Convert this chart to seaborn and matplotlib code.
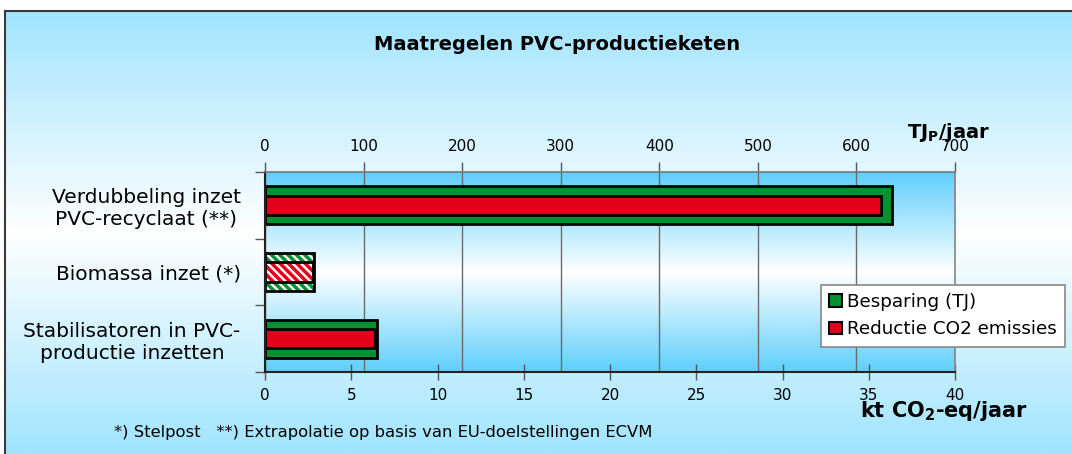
import numpy as np
import pandas as pd
import seaborn as sns
import matplotlib.pyplot as plt
import matplotlib.colors as mcolors
from matplotlib.patches import Patch

categories = ["Verdubbeling inzet\nPVC-recyclaat (**)", "Biomassa inzet (*)",
              "Stabilisatoren in PVC-\nproductie inzetten"]
besparing_tj = [636.5, 50, 114]
reductie_kt = [35.7, 2.8, 6.35]
hatched = [False, True, False]
tj_ticks = [0, 100, 200, 300, 400, 500, 600, 700]
kt_ticks = [0, 5, 10, 15, 20, 25, 30, 35, 40]

green = "#009230"
red = "#e2001a"

sns.set_style("white")
plt.rcParams["font.family"] = ["DejaVu Sans"]
plt.rcParams["text.color"] = "black"
plt.rcParams["xtick.labelcolor"] = "black"
plt.rcParams["ytick.labelcolor"] = "black"
plt.rcParams["hatch.linewidth"] = 2.5

W, H = 1072, 454
fig = plt.figure(figsize=(W / 100, H / 100), dpi=100)


def grad(c_end, n=256):
    c = np.array(mcolors.to_rgb(c_end))
    t = np.abs(np.linspace(-1, 1, n))[:, None]
    return (1 - t) * np.ones(3) + t * c


# figure background with frame
bg = fig.add_axes([5 / W, 0, 1 - 5 / W, 1 - 11 / H], zorder=-2)
bg.imshow(grad("#a0e4fe")[:, None, :], aspect="auto", extent=[0, 1, 0, 1])
bg.set_xticks([]); bg.set_yticks([])
for s in ["right", "bottom"]:
    bg.spines[s].set_visible(False)
for s in ["left", "top"]:
    bg.spines[s].set_color("#3a3a3a"); bg.spines[s].set_linewidth(1.5)

rect = [265 / W, 1 - 372 / H, 690 / W, 200 / H]
pbg = fig.add_axes(rect, zorder=-1)
pbg.imshow(grad("#5ecffc")[:, None, :], aspect="auto", extent=[0, 1, 0, 1])
pbg.axis("off")

ax = fig.add_axes(rect)
ax.set_facecolor("none")
df = pd.DataFrame({"cat": categories, "tj": besparing_tj, "kt": reductie_kt})
sns.barplot(data=df, x="tj", y="cat", orient="h", color=green, width=0.57,
            edgecolor="black", linewidth=2, saturation=1, ax=ax)
ax2 = ax.twiny()
sns.barplot(data=df, x="kt", y="cat", orient="h", color=red, width=0.29,
            edgecolor="black", linewidth=2, saturation=1, ax=ax2)

for a, col in [(ax, green), (ax2, red)]:
    for p, h in zip(a.patches, hatched):
        if h:
            p.set_facecolor("white")
            p.set_hatch("\\\\\\\\")
            p._hatch_color = mcolors.to_rgba(col)

ax.set_xlim(0, 700)
ax2.set_xlim(0, 40)
ax.set_ylim(2.5, -0.5)
ax.xaxis.tick_top()
ax2.xaxis.tick_bottom()
ax.set_xticks(tj_ticks)
ax2.set_xticks(kt_ticks)
ax.set_xlabel(""); ax.set_ylabel(""); ax2.set_xlabel("")
ax.tick_params(axis="x", top=True, bottom=False, direction="out", length=7,
               width=1, color="#555555", labelsize=11, pad=6)
ax2.tick_params(axis="x", top=False, bottom=True, direction="inout", length=11,
                width=1, color="#555555", labelsize=11, pad=6)
ax.set_yticks([0, 1, 2])
ax.set_yticklabels(categories, fontsize=14.5)
ax.set_yticks([-0.5, 0.5, 1.5, 2.5], minor=True)
ax.tick_params(axis="y", which="major", left=False, pad=14)
ax.tick_params(axis="y", which="minor", left=True, length=7, width=1,
               color="#555555", direction="out")
for t in ax.get_yticklabels():
    t.set_multialignment("center")
ax.grid(axis="x", color="#6a6a6a", linewidth=1)
ax.set_axisbelow(True)
for a in (ax, ax2):
    for s in a.spines.values():
        s.set_visible(False)
ax2.spines["bottom"].set_visible(True)
ax2.spines["bottom"].set_color("#222222"); ax2.spines["bottom"].set_linewidth(1.5)
ax2.spines["left"].set_visible(True)
ax2.spines["left"].set_color("#222222"); ax2.spines["left"].set_linewidth(1.5)
ax2.spines["top"].set_visible(True)
ax2.spines["top"].set_color("#777777"); ax2.spines["top"].set_linewidth(1.2)
ax2.spines["right"].set_visible(True)
ax2.spines["right"].set_color("#888888"); ax2.spines["right"].set_linewidth(1.2)

fig.text(557 / W, 1 - 45 / H, "Maatregelen PVC-productieketen", ha="center",
         va="center", fontsize=14, fontweight="bold")
fig.text(948 / W, 1 - 133 / H, "TJ$_\\mathregular{P}$/jaar", ha="center",
         va="center", fontsize=14, fontweight="bold")
fig.text(944 / W, 1 - 411 / H, "kt CO$_\\mathregular{2}$-eq/jaar", ha="center",
         va="center", fontsize=15, fontweight="bold")
fig.text(114 / W, 1 - 432 / H,
         "*) Stelpost   **) Extrapolatie op basis van EU-doelstellingen ECVM",
         ha="left", va="center", fontsize=11.8)

handles = [Patch(facecolor=green, edgecolor="black", linewidth=1.5, label="Besparing (TJ)"),
           Patch(facecolor=red, edgecolor="black", linewidth=1.5, label="Reductie CO2 emissies")]
leg = fig.legend(handles=handles, loc="upper left",
                 bbox_to_anchor=(821 / W, 1 - 285 / H), fontsize=13.2,
                 frameon=True, fancybox=False, framealpha=1, edgecolor="#888888",
                 handlelength=0.7, handleheight=0.7, handletextpad=0.25,
                 borderpad=0.45, labelspacing=0.5, borderaxespad=0)
leg.get_frame().set_linewidth(1.2)

fig.savefig("out.png", dpi=100)
